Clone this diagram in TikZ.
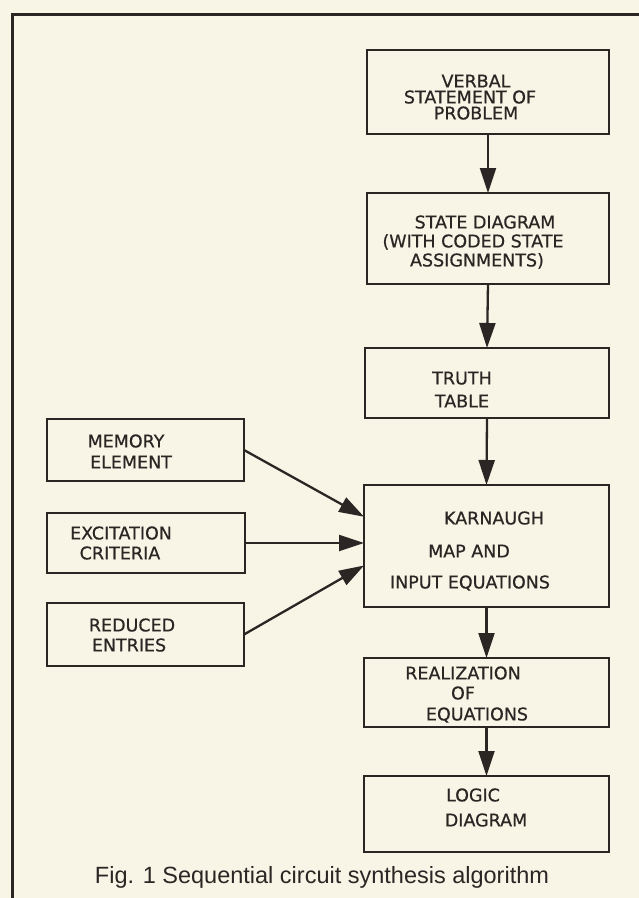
\documentclass[tikz,border=0pt]{standalone}
\usepackage{fontspec}
\setmainfont{Liberation Sans}
\newfontfamily\letfont[FakeBold=0.6]{DejaVu Sans}
\usetikzlibrary{arrows.meta,calc}
\definecolor{bgc}{HTML}{F8F4E6}
\definecolor{ink}{HTML}{2B2624}
\begin{document}
\begin{tikzpicture}[x=1pt,y=-1pt,
  box/.style={draw=ink, line width=2.3pt, inner sep=0pt, outer sep=0pt},
  lbl/.style={font=\letfont\fontsize{17.5}{19}\selectfont, text=ink, inner sep=0pt, text height=12.8pt, text depth=0pt, anchor=center},
  arr/.style={draw=ink, line width=2.3pt, -{Triangle[length=25pt,width=16pt]}}]
\useasboundingbox (0,0) rectangle (639,898);
\fill[bgc] (0,0) rectangle (639,898);
\draw[ink, line width=3pt] (12,898) -- (12,14) -- (639,14);
% boxes
\node[box, minimum width=242pt, minimum height=84pt] (verbal) at (488,92) {};
\node[box, minimum width=242pt, minimum height=91pt] (state) at (488,238.5) {};
\node[box, minimum width=244pt, minimum height=70pt] (truth) at (487,383) {};
\node[box, minimum width=245pt, minimum height=122pt] (karn) at (486.5,546) {};
\node[box, minimum width=245pt, minimum height=69pt] (real) at (486.5,692.5) {};
\node[box, minimum width=245pt, minimum height=76pt] (logic) at (486.5,814) {};
\node[box, minimum width=197pt, minimum height=62pt] (memory) at (145.5,450) {};
\node[box, minimum width=198pt, minimum height=60pt] (excit) at (146,543) {};
\node[box, minimum width=197pt, minimum height=63pt] (reduced) at (145.5,634.5) {};
% texts
\node[lbl] (t1a) at (476,81) {VERBAL};
\node[lbl] (t1b) at (470,97) {STATEMENT OF};
\node[lbl] (t1c) at (476,113) {PROBLEM};
\node[lbl] (t2a) at (485,222) {STATE DIAGRAM};
\node[lbl] (t2b) at (473,241) {(WITH CODED STATE};
\node[lbl] (t2c) at (477,260) {ASSIGNMENTS)};
\node[lbl] (t3a) at (462,378) {TRUTH};
\node[lbl] (t3b) at (462,401) {TABLE};
\node[lbl] (t4a) at (494,518) {KARNAUGH};
\node[lbl] (t4b) at (469,551) {MAP AND};
\node[lbl] (t4c) at (470,582) {INPUT EQUATIONS};
\node[lbl] (t5a) at (463,673) {REALIZATION};
\node[lbl] (t5b) at (463,693) {OF};
\node[lbl] (t5c) at (477,714) {EQUATIONS};
\node[lbl] (t6a) at (473,795) {LOGIC};
\node[lbl] (t6b) at (486,820) {DIAGRAM};
\node[lbl] (m1) at (126,441) {MEMORY};
\node[lbl] (m2) at (131,462) {ELEMENT};
\node[lbl] (e1) at (121,533) {EXCITATION};
\node[lbl] (e2) at (120,553) {CRITERIA};
\node[lbl] (r1) at (132,625) {REDUCED};
\node[lbl] (r2) at (129,645) {ENTRIES};
% connectors
\draw[arr] (verbal.south) -- (state.north);
\draw[arr] (state.south) -- (truth.north);
\draw[arr] (truth.south) -- (karn.north);
\draw[arr] (karn.south) -- (real.north);
\draw[arr] (real.south) -- (logic.north);
\coordinate (k1) at ($(karn.north west)!0.26!(karn.south west)$);
\coordinate (k3) at ($(karn.north west)!0.66!(karn.south west)$);
\draw[arr] (memory.east) -- (k1);
\draw[arr] (excit.east) -- (excit.east -| karn.west);
\draw[arr] (reduced.east) -- (k3);
% caption
\node[font=\fontsize{23.5}{26}\selectfont, text=ink, inner sep=0pt] (cap) at (322,877) {Fig. 1 Sequential circuit synthesis algorithm};
\end{tikzpicture}
\end{document}
